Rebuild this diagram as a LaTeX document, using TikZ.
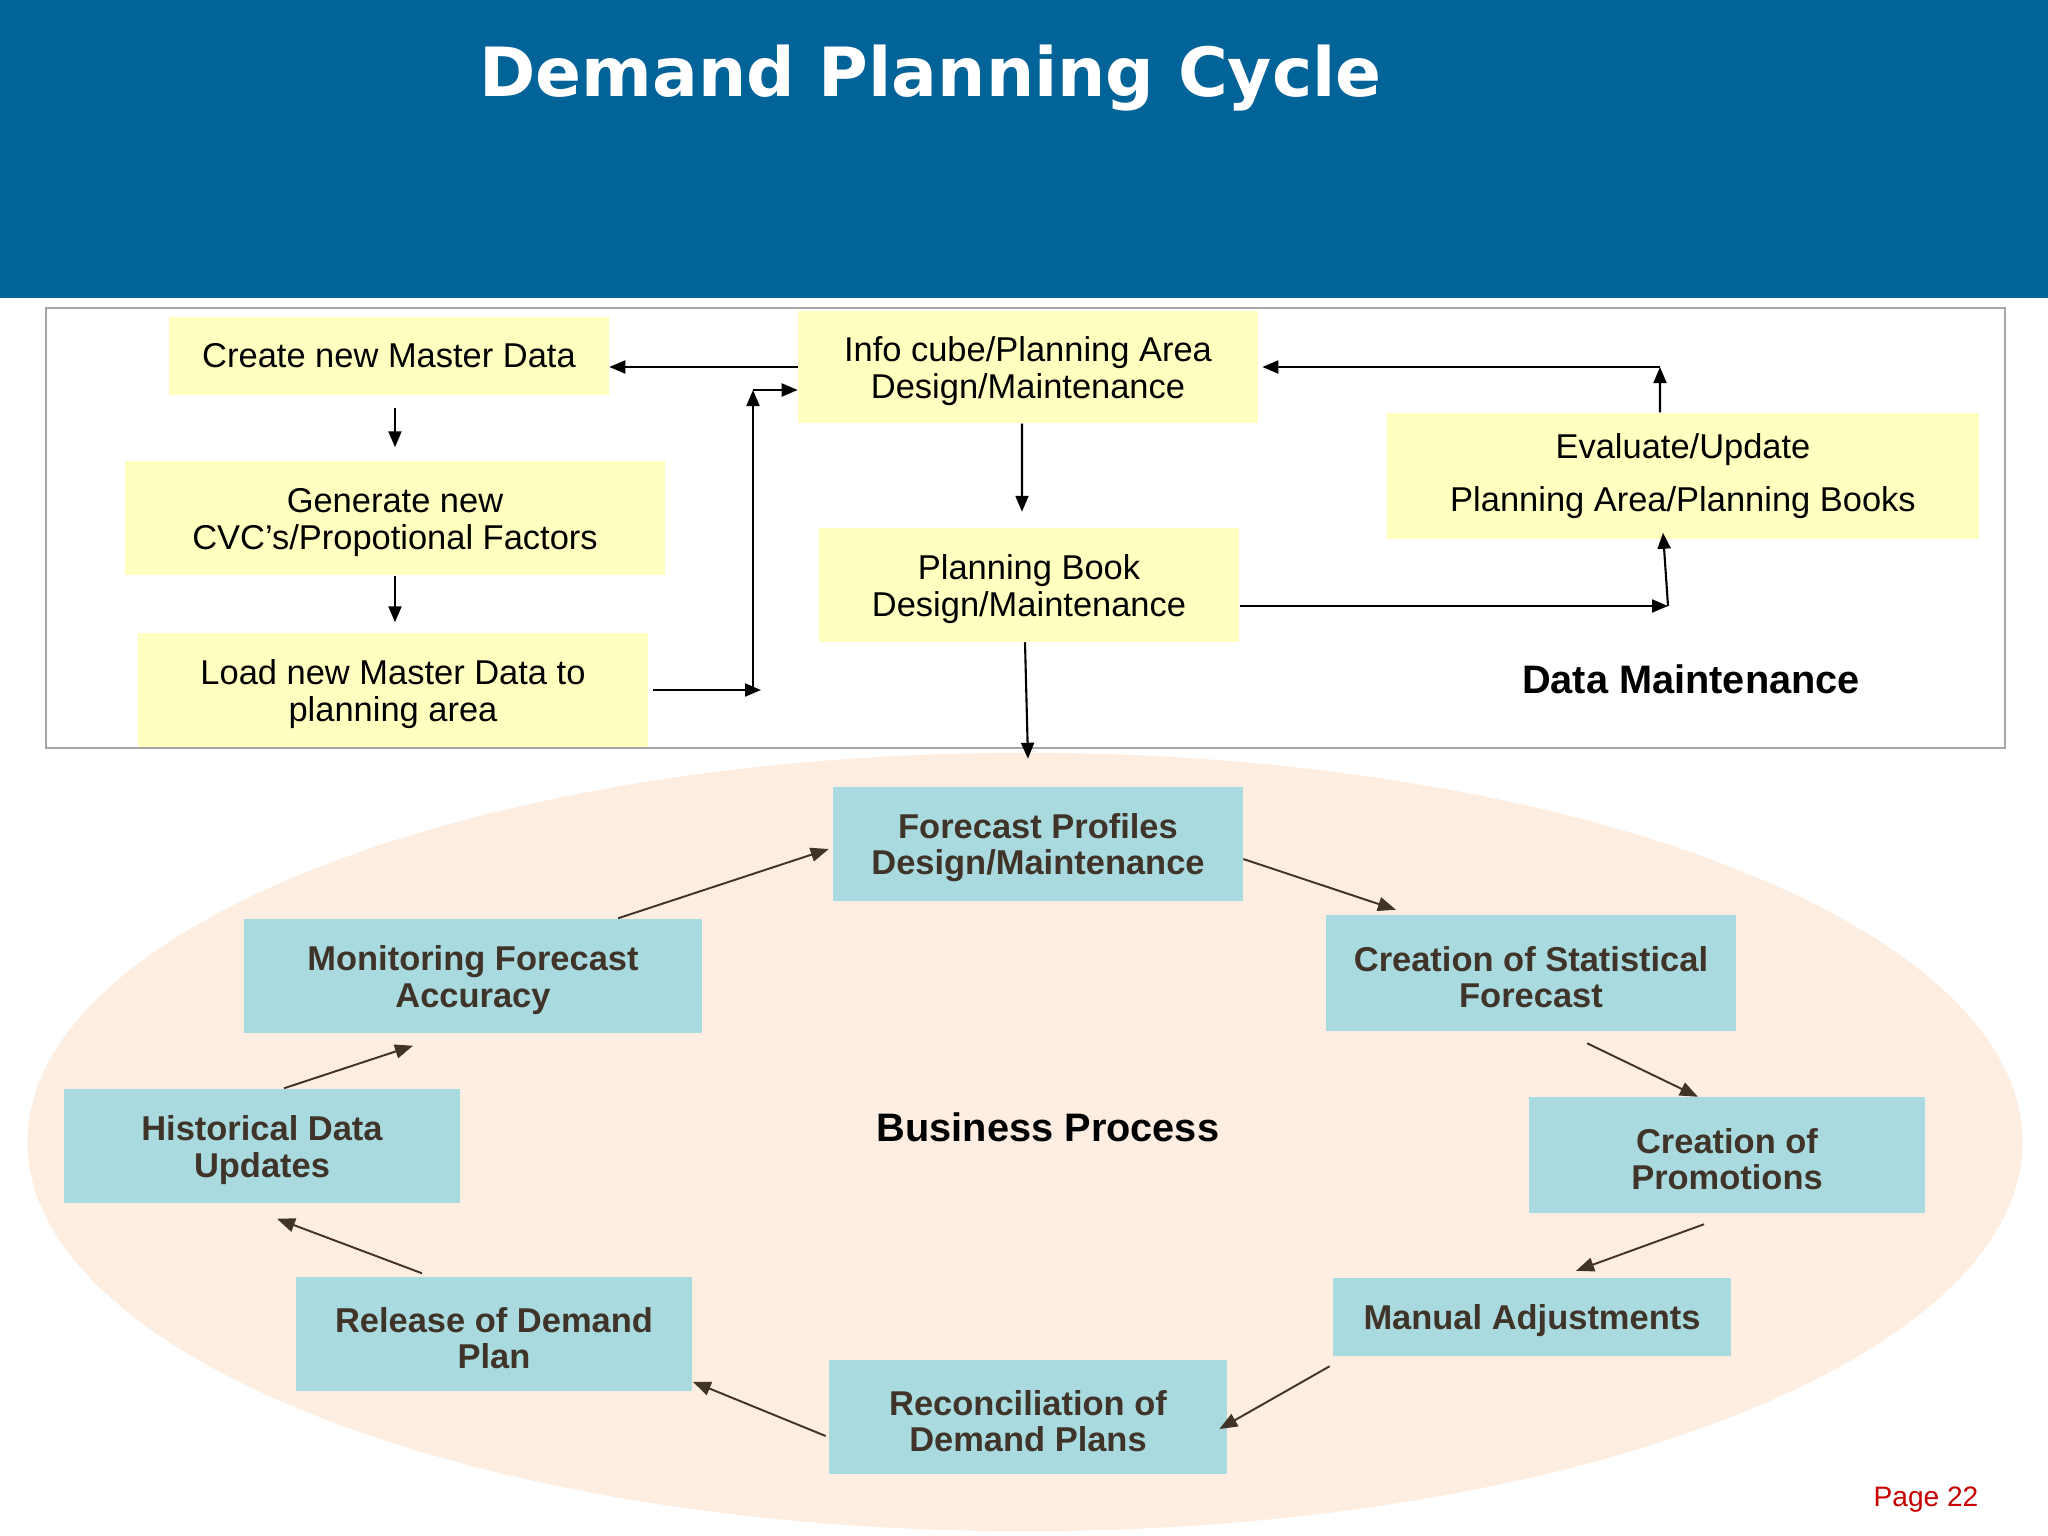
\documentclass[tikz,border=0pt]{standalone}
\usepackage{fontspec}
\setmainfont{Liberation Sans}
\newfontfamily\titlefont{DejaVu Sans}
\usepackage{xcolor}
\usetikzlibrary{arrows.meta,positioning}
\definecolor{banner}{RGB}{2,99,153}
\definecolor{yellowbox}{RGB}{255,255,192}
\definecolor{bluebox}{RGB}{168,218,224}
\definecolor{peach}{RGB}{254,238,226}
\definecolor{brownink}{RGB}{64,52,40}
\definecolor{pagered}{RGB}{200,0,0}
\newcommand{\lift}{\rule{0pt}{9.4pt}}

\begin{document}
\begin{tikzpicture}[x=0.01cm,y=-0.01cm,
  ybox/.style={fill=yellowbox, align=center, inner sep=0pt, font=\fontsize{9.8}{10.3}\selectfont},
  bbox/.style={fill=bluebox, text=brownink, align=center, inner sep=0pt, font=\bfseries\fontsize{9.8}{10.3}\selectfont},
  arr/.style={-{Triangle[length=0.16cm,width=0.13cm]}, line width=0.6pt},
  barr/.style={brownink, -{Triangle[length=0.18cm,width=0.14cm]}, line width=0.55pt},
  heading/.style={font=\bfseries\fontsize{11.3}{13}\selectfont}]
\useasboundingbox (0,0) rectangle (2048,1536);

% banner
\fill[banner] (0,0) rectangle (2048,298);
\node[anchor=base west, text=white, font=\titlefont\bfseries\fontsize{19.3}{23}\selectfont] (title) at (467,96) {Demand Planning Cycle};

% backgrounds
\fill[peach] (1025,1142) ellipse [x radius=9.97cm, y radius=3.89cm];
\draw[gray!70, line width=0.5pt] (46,308) rectangle (2005,748);

% data maintenance
\node[ybox, minimum width=4.39cm, minimum height=0.77cm] (create) at (389,356) {Create new Master Data};
\node[ybox, minimum width=5.40cm, minimum height=1.14cm] (cvc) at (395,518) {\lift Generate new\\CVC’s/Propotional Factors};
\node[ybox, minimum width=5.09cm, minimum height=1.14cm] (load) at (393,690) {\lift Load new Master Data to\\planning area};
\node[ybox, minimum width=4.59cm, minimum height=1.12cm] (info) at (1028,367) {\lift Info cube/Planning Area\\Design/Maintenance};
\node[ybox, minimum width=4.20cm, minimum height=1.13cm] (pbook) at (1029,585) {\lift Planning Book\\Design/Maintenance};
\node[ybox, minimum width=5.92cm, minimum height=1.26cm, font=\fontsize{9.8}{15}\selectfont] (evaluate) at (1683,476) {Evaluate/Update\\Planning Area/Planning Books};
\node[heading] (dmlabel) at (1691,679) {Data Maintenance};

\coordinate (lbend) at (753,690);
\coordinate (ltop) at (753,390);
\coordinate (pbcorner) at (1668,606);
\coordinate (evtop) at (1660,367);

\draw[arr] (info.west) -- (info.west -| create.east);
\draw[arr] ([yshift=-0.13cm]create.south -| cvc.north) -- ([yshift=0.13cm]cvc.north);
\draw[arr] (cvc.south) -- ([yshift=0.1cm]load.north -| cvc.south);
\draw[arr] ([xshift=0.05cm]load.east) -- ([xshift=0.08cm]load.east -| lbend);
\draw[arr] (lbend) -- (ltop);
\draw[arr] (ltop) -- (ltop -| info.west);
\draw[arr] ([xshift=-0.06cm]info.south) -- ([xshift=-0.07cm,yshift=0.16cm]pbook.north);
\draw[arr] (pbook.east |- pbcorner) -- (pbcorner);
\draw[arr] (pbcorner) -- ([xshift=-0.2cm,yshift=0.07cm]evaluate.south);
\draw[arr] ([xshift=-0.23cm]evaluate.north) -- (evtop);
\draw[arr] (evtop) -- ([xshift=0.04cm]evtop -| info.east);

% business process
\node[bbox, minimum width=4.09cm, minimum height=1.13cm] (fprof) at (1038,844) {\lift Forecast Profiles\\Design/Maintenance};
\node[bbox, minimum width=4.09cm, minimum height=1.15cm] (statfc) at (1531,973) {\lift Creation of Statistical\\Forecast};
\node[bbox, minimum width=3.96cm, minimum height=1.15cm] (promo) at (1727,1155) {\lift Creation of\\Promotions};
\node[bbox, minimum width=3.97cm, minimum height=0.77cm] (manual) at (1532,1317) {\lift Manual Adjustments};
\node[bbox, minimum width=3.97cm, minimum height=1.14cm] (recon) at (1028,1417) {\lift Reconciliation of\\Demand Plans};
\node[bbox, minimum width=3.96cm, minimum height=1.14cm] (release) at (494,1334) {\lift Release of Demand\\Plan};
\node[bbox, minimum width=3.96cm, minimum height=1.14cm] (hist) at (262,1146) {\lift Historical Data\\Updates};
\node[bbox, minimum width=4.57cm, minimum height=1.14cm] (monitor) at (473,976) {\lift Monitoring Forecast\\Accuracy};
\node[heading] (bplabel) at (1048,1127) {Business Process};

\draw[arr] ([xshift=-0.04cm]pbook.south) -- ([xshift=-0.1cm,yshift=0.28cm]fprof.north);
\draw[barr] ([yshift=-0.15cm]fprof.east) -- ([xshift=-1.35cm,yshift=0.05cm]statfc.north);
\draw[barr] ([xshift=0.56cm,yshift=-0.12cm]statfc.south) -- ([xshift=-0.29cm]promo.north);
\draw[barr] ([xshift=-0.23cm,yshift=-0.11cm]promo.south) -- ([xshift=0.44cm,yshift=0.07cm]manual.north);
\draw[barr] ([xshift=-0.03cm,yshift=-0.1cm]manual.south west) -- ([xshift=-0.08cm,yshift=-0.12cm]recon.east);
\draw[barr] ([xshift=-0.03cm,yshift=-0.19cm]recon.west) -- ([yshift=0.1cm]release.south east);
\draw[barr] ([xshift=-0.72cm,yshift=0.03cm]release.north) -- ([xshift=0.15cm,yshift=-0.15cm]hist.south);
\draw[barr] ([xshift=0.22cm]hist.north) -- ([xshift=-0.6cm,yshift=-0.12cm]monitor.south);
\draw[barr] ([xshift=1.45cm]monitor.north) -- ([xshift=-0.04cm,yshift=-0.05cm]fprof.west);

\node[text=pagered, font=\fontsize{8}{10}\selectfont] (page) at (1926,1500) {Page 22};
\end{tikzpicture}
\end{document}
